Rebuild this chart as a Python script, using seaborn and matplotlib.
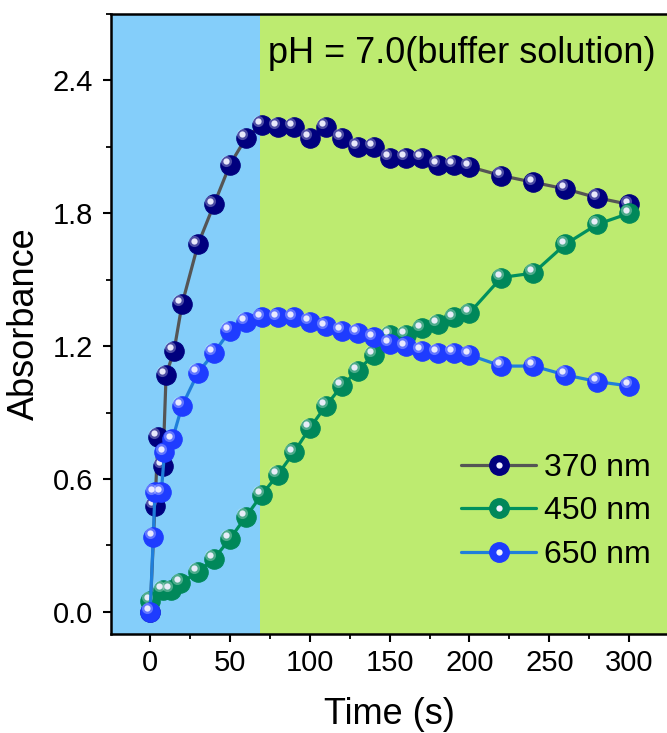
import matplotlib
matplotlib.use("Agg")
import matplotlib.pyplot as plt
import matplotlib.transforms as mtransforms
from matplotlib.lines import Line2D
from matplotlib.legend_handler import HandlerTuple
from matplotlib.ticker import MultipleLocator
import numpy as np
import pandas as pd
import seaborn as sns

# Absorbance kinetics at three wavelengths
t_370 = [0, 3, 5, 8, 10, 15, 20, 30, 40, 50, 60, 70, 80, 90, 100, 110, 120, 130,
         140, 150, 160, 170, 180, 190, 200, 220, 240, 260, 280, 300]
a_370 = [0.00, 0.48, 0.79, 0.66, 1.07, 1.18, 1.39, 1.66, 1.84, 2.02, 2.14, 2.20,
         2.19, 2.19, 2.14, 2.19, 2.14, 2.10, 2.10, 2.05, 2.05, 2.05, 2.02, 2.02,
         2.01, 1.97, 1.94, 1.91, 1.87, 1.84]

t_450 = [0, 8, 13, 19, 30, 40, 50, 60, 70, 80, 90, 100, 110, 120, 130, 140, 150,
         160, 170, 180, 190, 200, 220, 240, 260, 280, 300]
a_450 = [0.05, 0.10, 0.10, 0.13, 0.18, 0.24, 0.33, 0.43, 0.53, 0.62, 0.72, 0.83,
         0.93, 1.02, 1.09, 1.16, 1.25, 1.25, 1.28, 1.30, 1.33, 1.35, 1.51, 1.53,
         1.66, 1.75, 1.80]

t_650 = [0, 2, 3, 7, 9, 14, 20, 30, 40, 50, 60, 70, 80, 90, 100, 110, 120, 130,
         140, 150, 160, 170, 180, 190, 200, 220, 240, 260, 280, 300]
a_650 = [0.00, 0.34, 0.54, 0.54, 0.72, 0.78, 0.93, 1.08, 1.17, 1.27, 1.31, 1.33,
         1.33, 1.33, 1.31, 1.29, 1.27, 1.26, 1.24, 1.21, 1.20, 1.18, 1.17, 1.17,
         1.16, 1.11, 1.11, 1.07, 1.04, 1.02]

labels = ["370 nm", "450 nm", "650 nm"]
x_ticks = [0, 50, 100, 150, 200, 250, 300]
y_ticks = [0.0, 0.6, 1.2, 1.8, 2.4]
note = "pH = 7.0(buffer solution)"
phase_boundary = 69

series = [
    (t_370, a_370, "#555555", "#00007E"),
    (t_450, a_450, "#00905E", "#00885A"),
    (t_650, a_650, "#1F7EDB", "#1E3CFF"),
]

sns.set_theme(style="ticks")
plt.rcParams["font.family"] = ["Liberation Sans", "DejaVu Sans"]
plt.rcParams["text.color"] = "black"
plt.rcParams["axes.labelcolor"] = "black"

fig = plt.figure(figsize=(6.67, 7.33), dpi=100)
W, H = 667, 733
ax = fig.add_axes([111 / W, 1 - 634 / H, (W - 111) / W, (634 - 14) / H])

xmin, xmax = -24.5, 323.7
ax.set_xlim(xmin, xmax)
ax.set_ylim(-0.1, 2.7)

ax.axvspan(xmin, phase_boundary, color="#84CEFA", lw=0, zorder=0)
ax.axvspan(phase_boundary, xmax, color="#BDEB70", lw=0, zorder=0)

ms = 14
hl_offset = mtransforms.offset_copy(ax.transData, fig=fig, x=-2.6, y=2.6, units="points")
handles = []
for i, ((t, a, lc, mc), lab) in enumerate(zip(series, labels)):
    df = pd.DataFrame({"Time": t, "Absorbance": a})
    z = 3 + i * 3
    sns.lineplot(data=df, x="Time", y="Absorbance", ax=ax, color=lc, lw=2.3,
                 marker="o", markersize=ms, markerfacecolor=mc,
                 markeredgecolor=mc, markeredgewidth=0.8, zorder=z)
    # specular highlight on each sphere
    ax.plot(t, a, ls="none", marker="o", markersize=8, markerfacecolor="white",
            markeredgewidth=0, alpha=0.3, transform=hl_offset, zorder=z + 1)
    ax.plot(t, a, ls="none", marker="o", markersize=4.5, markerfacecolor="#F0F0FF",
            markeredgewidth=0, alpha=0.95, transform=hl_offset, zorder=z + 2)
    base = Line2D([], [], color=lc, lw=2.3, marker="o", markersize=ms,
                  markerfacecolor=mc, markeredgecolor=mc)
    shine = Line2D([], [], ls="none", marker="o", markersize=4.5,
                   markerfacecolor="#F0F0FF", markeredgewidth=0)
    handles.append((base, shine))

ax.set_xticks(x_ticks)
ax.set_yticks(y_ticks)
ax.set_yticklabels([f"{v:.1f}" for v in y_ticks])
ax.xaxis.set_minor_locator(MultipleLocator(25))
ax.yaxis.set_minor_locator(MultipleLocator(0.3))
ax.tick_params(axis="both", which="major", direction="out", length=6, width=1.5,
               labelsize=21, color="black", labelcolor="black")
ax.tick_params(axis="both", which="minor", direction="out", length=3.5, width=1.3,
               color="black")
ax.tick_params(axis="x", which="major", pad=5)
ax.tick_params(axis="y", which="major", pad=7)
ax.tick_params(top=False, right=False, which="both")

for side in ["left", "bottom", "top"]:
    ax.spines[side].set_linewidth(1.8)
    ax.spines[side].set_color("black")
    ax.spines[side].set_zorder(20)
ax.spines["right"].set_visible(False)

ax.set_xlabel("Time (s)", fontsize=26, labelpad=14, color="black")
ax.set_ylabel("Absorbance", fontsize=26, labelpad=8, color="black")

ax.text(0.282, 0.937, note, transform=ax.transAxes, fontsize=26,
        ha="left", va="center", color="black", zorder=30)

leg = ax.legend(handles, labels, handler_map={tuple: HandlerTuple(ndivide=1)},
                loc="upper left", bbox_to_anchor=(461 / W, 1 - 453 / H),
                bbox_transform=fig.transFigure, frameon=False, fontsize=23,
                handlelength=2.35, handletextpad=0.25, labelspacing=0.42,
                borderpad=0, borderaxespad=0, labelcolor="black")
leg.set_zorder(30)

fig.savefig("out.png", dpi=100)
